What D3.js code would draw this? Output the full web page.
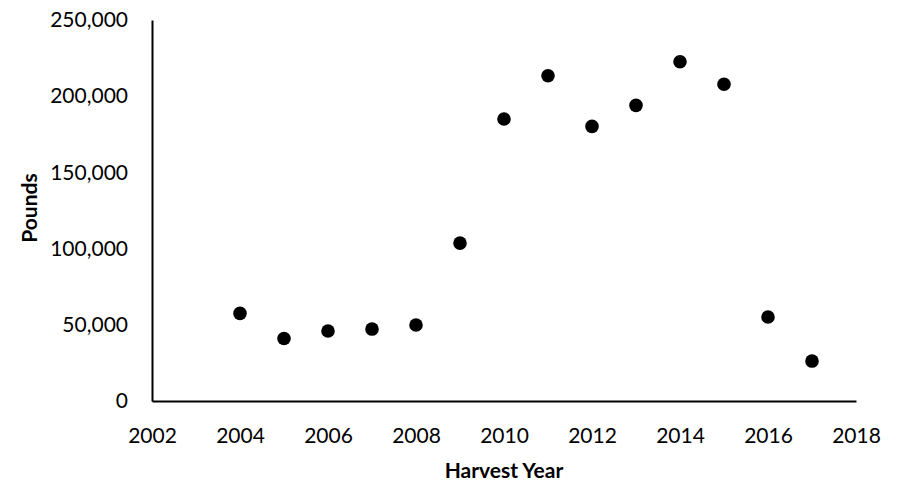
<!DOCTYPE html>
<html lang="en">
<head>
<meta charset="UTF-8">
<title>Harvest</title>
<script src="https://d3js.org/d3.v7.min.js"></script>
<style>
  body { margin: 0; background: #fff; }
  text { font-family: Lato, "Open Sans", sans-serif; fill: #000; }
</style>
</head>
<body>
<script>
// data
var years  = [2004, 2005, 2006, 2007, 2008, 2009, 2010, 2011, 2012, 2013, 2014, 2015, 2016, 2017];
var pounds = [57500, 41000, 45900, 47200, 49900, 103600, 185000, 213400, 180200, 194000, 222600, 207800, 55100, 26200];
var xTicks = [2002, 2004, 2006, 2008, 2010, 2012, 2014, 2016, 2018];
var yTicks = [0, 50000, 100000, 150000, 200000, 250000];

var w = 899, h = 484;
var mLeft = 152, mRight = 856, mTop = 20, mBottom = 401;

var svg = d3.select("body").append("svg")
    .attr("width", w)
    .attr("height", h);

var x = d3.scaleLinear().domain([2002, 2018]).range([mLeft, mRight]);
var y = d3.scaleLinear().domain([0, 250000]).range([mBottom, mTop]);

var xAxis = svg.append("g")
    .attr("transform", "translate(0," + mBottom + ")")
    .call(d3.axisBottom(x).tickValues(xTicks).tickFormat(d3.format("d")).tickSize(0).tickPadding(27));

var yAxis = svg.append("g")
    .attr("transform", "translate(" + mLeft + ",0)")
    .call(d3.axisLeft(y).tickValues(yTicks).tickFormat(d3.format(",")).tickSize(0).tickPadding(24));

svg.selectAll(".tick text").attr("font-family", null).attr("font-size", null).style("font-size", "21px");
svg.selectAll(".domain").attr("stroke", "#000").attr("stroke-width", 2);

svg.selectAll("circle")
    .data(years.map(function (d, i) { return { yr: d, v: pounds[i] }; }))
    .enter().append("circle")
    .attr("cx", function (d) { return x(d.yr); })
    .attr("cy", function (d) { return y(d.v); })
    .attr("r", 6.8)
    .attr("fill", "#000");

svg.append("text")
    .attr("x", (mLeft + mRight) / 2)
    .attr("y", 478)
    .attr("text-anchor", "middle")
    .style("font-size", "21px")
    .style("font-weight", "bold")
    .text("Harvest Year");

svg.append("text")
    .attr("transform", "translate(37,208) rotate(-90)")
    .attr("text-anchor", "middle")
    .style("font-size", "21px")
    .style("font-weight", "bold")
    .text("Pounds");
</script>
</body>
</html>
